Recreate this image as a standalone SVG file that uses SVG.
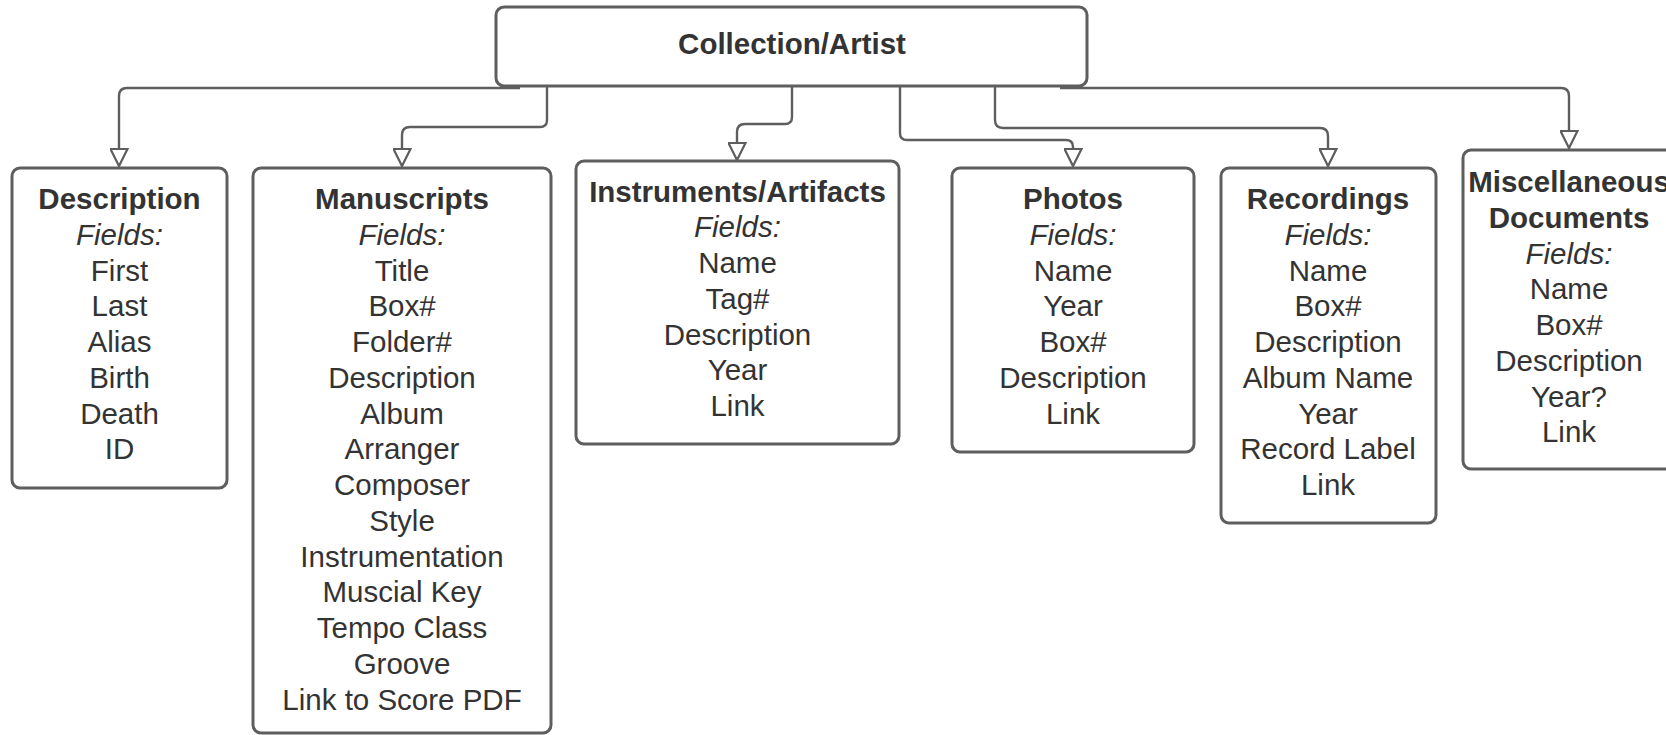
<svg xmlns="http://www.w3.org/2000/svg" width="1666" height="735" viewBox="0 0 1666 735">
<style>
.box{fill:#fff;stroke:#5e5e5e;stroke-width:3}
.con{fill:none;stroke:#5e5e5e;stroke-width:2.4}
text{font-family:"Liberation Sans",Arial,sans-serif;font-size:29.5px;fill:#333;text-anchor:middle}
.t{font-weight:bold}
.f{font-style:italic}
</style>
<defs>
<marker id="arr" markerUnits="userSpaceOnUse" markerWidth="21" markerHeight="19" refX="17" refY="8.5" orient="auto" viewBox="-1 -1 21 19">
<path d="M0,0 L17,8.5 L0,17 Z" fill="#fff" stroke="#5e5e5e" stroke-width="2.2"/>
</marker>
</defs>
<g id="connectors">
<path class="con" d="M520 88 H127 Q119 88 119 96 V166" marker-end="url(#arr)"/>
<path class="con" d="M547 86 V120 Q547 127 540 127 H410 Q402 127 402 135 V166" marker-end="url(#arr)"/>
<path class="con" d="M792 86 V117 Q792 124 785 124 H745 Q737 124 737 132 V160" marker-end="url(#arr)"/>
<path class="con" d="M900 86 V133 Q900 140 907 140 H1066 Q1073 140 1073 147 V166" marker-end="url(#arr)"/>
<path class="con" d="M995 86 V120 Q995 128 1003 128 H1320 Q1328 128 1328 136 V166" marker-end="url(#arr)"/>
<path class="con" d="M1060 88 H1561 Q1569 88 1569 96 V148" marker-end="url(#arr)"/>
</g>
<g id="root">
<rect class="box" x="496" y="7" width="591" height="79" rx="8"/>
<text class="t" x="792" y="54">Collection/Artist</text>
</g>
<g id="description">
<rect class="box" x="12" y="168" width="215" height="320" rx="8"/>
<text x="119.5" y="209"><tspan class="t">Description</tspan><tspan class="f" x="119.5" dy="35.75">Fields:</tspan><tspan x="119.5" dy="35.75">First</tspan><tspan x="119.5" dy="35.75">Last</tspan><tspan x="119.5" dy="35.75">Alias</tspan><tspan x="119.5" dy="35.75">Birth</tspan><tspan x="119.5" dy="35.75">Death</tspan><tspan x="119.5" dy="35.75">ID</tspan></text>
</g>
<g id="manuscripts">
<rect class="box" x="253" y="168" width="298" height="565" rx="8"/>
<text x="402" y="209"><tspan class="t">Manuscripts</tspan><tspan class="f" x="402" dy="35.75">Fields:</tspan><tspan x="402" dy="35.75">Title</tspan><tspan x="402" dy="35.75">Box#</tspan><tspan x="402" dy="35.75">Folder#</tspan><tspan x="402" dy="35.75">Description</tspan><tspan x="402" dy="35.75">Album</tspan><tspan x="402" dy="35.75">Arranger</tspan><tspan x="402" dy="35.75">Composer</tspan><tspan x="402" dy="35.75">Style</tspan><tspan x="402" dy="35.75">Instrumentation</tspan><tspan x="402" dy="35.75">Muscial Key</tspan><tspan x="402" dy="35.75">Tempo Class</tspan><tspan x="402" dy="35.75">Groove</tspan><tspan x="402" dy="35.75">Link to Score PDF</tspan></text>
</g>
<g id="instruments">
<rect class="box" x="576" y="161" width="323" height="283" rx="8"/>
<text x="737.5" y="201.5"><tspan class="t">Instruments/Artifacts</tspan><tspan class="f" x="737.5" dy="35.75">Fields:</tspan><tspan x="737.5" dy="35.75">Name</tspan><tspan x="737.5" dy="35.75">Tag#</tspan><tspan x="737.5" dy="35.75">Description</tspan><tspan x="737.5" dy="35.75">Year</tspan><tspan x="737.5" dy="35.75">Link</tspan></text>
</g>
<g id="photos">
<rect class="box" x="952" y="168" width="242" height="284" rx="8"/>
<text x="1073" y="209"><tspan class="t">Photos</tspan><tspan class="f" x="1073" dy="35.75">Fields:</tspan><tspan x="1073" dy="35.75">Name</tspan><tspan x="1073" dy="35.75">Year</tspan><tspan x="1073" dy="35.75">Box#</tspan><tspan x="1073" dy="35.75">Description</tspan><tspan x="1073" dy="35.75">Link</tspan></text>
</g>
<g id="recordings">
<rect class="box" x="1221" y="168" width="215" height="355" rx="8"/>
<text x="1328" y="209"><tspan class="t">Recordings</tspan><tspan class="f" x="1328" dy="35.75">Fields:</tspan><tspan x="1328" dy="35.75">Name</tspan><tspan x="1328" dy="35.75">Box#</tspan><tspan x="1328" dy="35.75">Description</tspan><tspan x="1328" dy="35.75">Album Name</tspan><tspan x="1328" dy="35.75">Year</tspan><tspan x="1328" dy="35.75">Record Label</tspan><tspan x="1328" dy="35.75">Link</tspan></text>
</g>
<g id="misc">
<rect class="box" x="1463" y="150" width="212" height="319" rx="8"/>
<text x="1569" y="192"><tspan class="t">Miscellaneous</tspan><tspan class="t" x="1569" dy="35.75">Documents</tspan><tspan class="f" x="1569" dy="35.75">Fields:</tspan><tspan x="1569" dy="35.75">Name</tspan><tspan x="1569" dy="35.75">Box#</tspan><tspan x="1569" dy="35.75">Description</tspan><tspan x="1569" dy="35.75">Year?</tspan><tspan x="1569" dy="35.75">Link</tspan></text>
</g>
</svg>
